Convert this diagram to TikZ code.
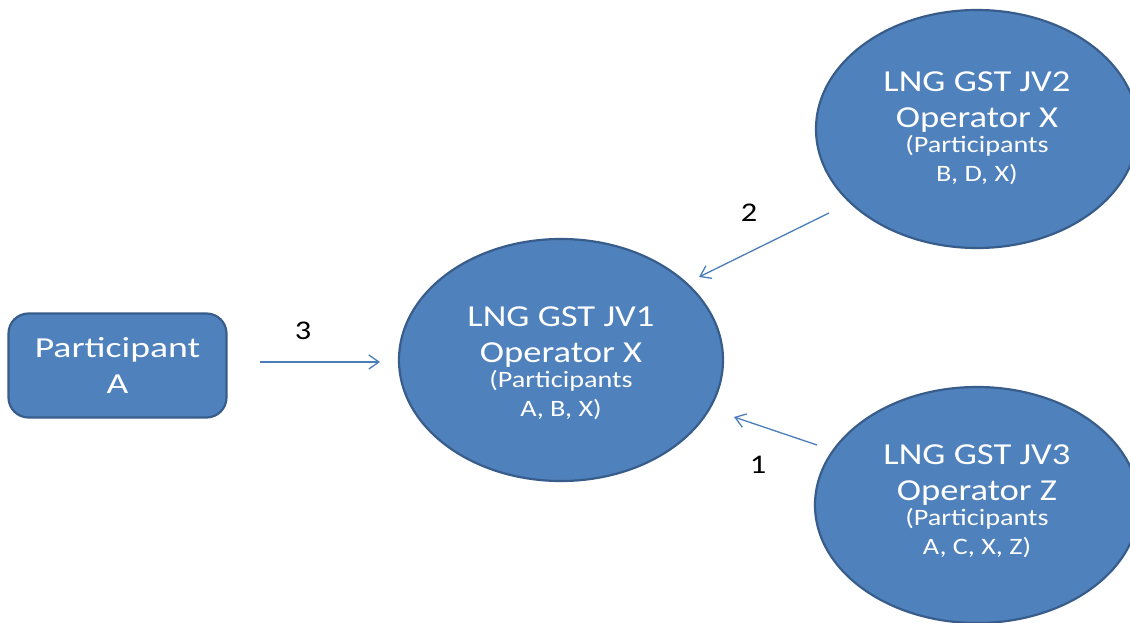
\documentclass[tikz,border=0pt]{standalone}
\usepackage{fontspec}
\setmainfont{Carlito}
\newfontfamily\wideA[FakeStretch=1.2]{Carlito}
\newfontfamily\wideB[FakeStretch=1.3]{Carlito}
\usetikzlibrary{arrows.meta,shapes.geometric}
\definecolor{fillblue}{HTML}{4F81BD}
\definecolor{edgeblue}{HTML}{385D8A}
\definecolor{arrblue}{HTML}{4A7EBB}
\tikzset{
  jv/.style={ellipse, fill=fillblue, draw=edgeblue, line width=2.2pt, inner sep=0pt},
  bigtxt/.style={text=white, anchor=base, inner sep=0pt, font=\wideA\fontsize{30.5}{35}\selectfont},
  smtxt/.style={text=white, anchor=base, inner sep=0pt, font=\wideA\fontsize{23.5}{26}\selectfont},
  pbtxt/.style={text=white, anchor=base, inner sep=0pt, font=\wideB\fontsize{29}{35}\selectfont},
  conn/.style={draw=arrblue, line width=1.3pt, -{Straight Barb[length=10pt,width=14pt,line width=1.3pt]}},
  num/.style={font=\wideA\fontsize{27}{30}\selectfont, text=black},
}
% name, x, top baseline, four lines
\newcommand{\jvlines}[7]{%
  \node[bigtxt] (#1a) at (#2,#3) {#4};
  \node[bigtxt] (#1b) at (#2,#3+36) {#5};
  \node[smtxt]  (#1c) at (#2,#3+61) {#6};
  \node[smtxt]  (#1d) at (#2,#3+90) {#7};
}
\begin{document}
\begin{tikzpicture}[x=1pt,y=-1pt]
\useasboundingbox (0,0) rectangle (1130,623);
\clip (0,0) rectangle (1130,623);
\fill[white] (0,0) rectangle (1130,623);
% participant box
\node[rounded corners=20pt, fill=fillblue, draw=edgeblue, line width=2.2pt,
      minimum width=218pt, minimum height=104pt, inner sep=0pt] (pa) at (117.5,365.5) {};
\node[pbtxt] (paa) at (117.5,357.5) {Participant};
\node[pbtxt] (pab) at (117.5,393) {A};
% ellipses
\node[jv, minimum width=324pt, minimum height=242pt] (jv1) at (561,360) {};
\node[jv, minimum width=322pt, minimum height=238pt] (jv2) at (977,129) {};
\node[jv, minimum width=324pt, minimum height=236pt] (jv3) at (977,505) {};
% texts
\jvlines{t1}{561}{326}{LNG GST JV1}{Operator X}{(Participants}{A, B, X)}
\jvlines{t2}{977}{92}{LNG GST JV2}{Operator X}{(Participants}{B, D, X)}
\jvlines{t3}{977}{464}{LNG GST JV3}{Operator Z}{(Participants}{A, C, X, Z)}
% connector endpoints
\coordinate (a3s) at (260,362);
\coordinate (a3e) at (380,362);
\coordinate (a2s) at (829,213);
\coordinate (a2e) at (699,277);
\coordinate (a1s) at (817,445);
\coordinate (a1e) at (734,417);
\draw[conn] (a3s) -- (a3e);
\draw[conn] (a2s) -- (a2e);
\draw[conn] (a1s) -- (a1e);
\node[num] (n3) at (303,331) {3};
\node[num] (n2) at (749,213) {2};
\node[num] (n1) at (758,465) {1};
\end{tikzpicture}
\end{document}
